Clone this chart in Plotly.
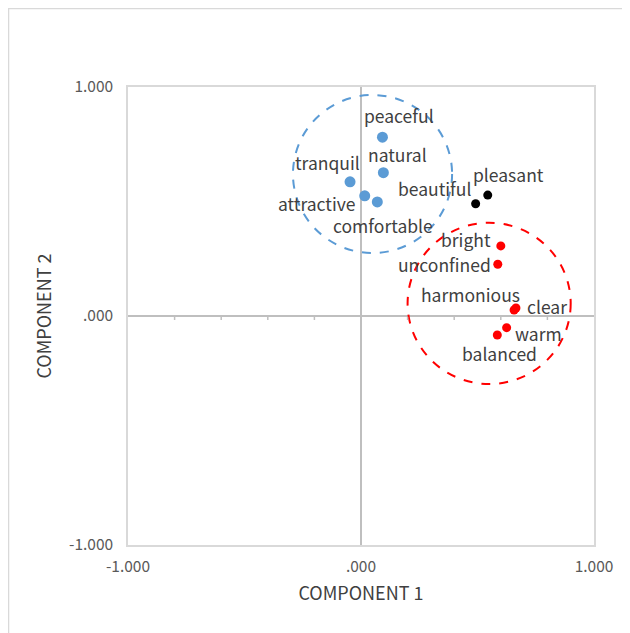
import plotly.graph_objects as go

# ---- data ----
blue_words = ["peaceful", "natural", "tranquil", "attractive", "comfortable"]
blue_x = [0.092, 0.096, -0.047, 0.016, 0.070]
blue_y = [0.781, 0.626, 0.586, 0.525, 0.498]

black_words = ["pleasant", "beautiful"]
black_x = [0.544, 0.492]
black_y = [0.528, 0.490]

red_words = ["bright", "unconfined", "harmonious", "clear", "warm", "balanced"]
red_x = [0.600, 0.587, 0.657, 0.665, 0.625, 0.585]
red_y = [0.306, 0.226, 0.026, 0.035, -0.051, -0.083]

tick_vals = [-1, 0, 1]
tick_text = ["-1.000", ".000", "1.000"]
minor_ticks = [-0.8, -0.6, -0.4, -0.2, 0.2, 0.4, 0.6, 0.8]

# cluster circles (data units)
blue_circle = dict(x0=-0.292, x1=0.391, y0=0.275, y1=0.965)
red_circle = dict(x0=0.200, x1=0.900, y0=-0.297, y1=0.407)

# label offsets in pixels (dx right, dy up)
label_offsets = {
    "peaceful": (17, 22), "natural": (14, 18), "tranquil": (-23, 19),
    "attractive": (-48, -8), "comfortable": (6, -24),
    "pleasant": (21, 21), "beautiful": (-41, 15),
    "bright": (-35, 6), "unconfined": (-53, 0), "harmonious": (-44, 16),
    "clear": (31, 1), "warm": (32, -6), "balanced": (2, -18),
}

FONT = "Noto Sans CJK SC"
TXT = "#404040"

fig = go.Figure()
for xs, ys, col, size in [(blue_x, blue_y, "#5b9bd5", 11),
                          (black_x, black_y, "#000000", 9),
                          (red_x, red_y, "#ff0000", 9)]:
    fig.add_trace(go.Scatter(x=xs, y=ys, mode="markers",
                             marker=dict(color=col, size=size),
                             showlegend=False, hoverinfo="skip"))

annotations = []
for words, xs, ys in [(blue_words, blue_x, blue_y),
                      (black_words, black_x, black_y),
                      (red_words, red_x, red_y)]:
    for w, x, y in zip(words, xs, ys):
        dx, dy = label_offsets[w]
        annotations.append(dict(x=x, y=y, text=w, showarrow=False,
                                xshift=dx, yshift=dy,
                                font=dict(family=FONT, size=17.5, color=TXT)))

shapes = []
shapes.append(dict(type="circle", xref="x", yref="y", **blue_circle,
                   line=dict(color="#5b9bd5", width=2, dash="dash")))
shapes.append(dict(type="circle", xref="x", yref="y", **red_circle,
                   line=dict(color="#ff0000", width=2, dash="dash")))
for t in minor_ticks:
    shapes.append(dict(type="line", xref="x", yref="y", ysizemode="pixel",
                       yanchor=0, x0=t, x1=t, y0=-1, y1=-4,
                       line=dict(color="#bfbfbf", width=1.5)))
# outer chart border
shapes.append(dict(type="rect", xref="paper", yref="paper",
                   x0=-0.2564, x1=1.2, y0=-0.3, y1=1.1715,
                   line=dict(color="#d9d9d9", width=1.5), layer="below"))

axis_common = dict(range=[-1, 1], tickvals=tick_vals, ticktext=tick_text,
                   showgrid=False, zeroline=True, zerolinecolor="#bfbfbf",
                   zerolinewidth=2, showline=True, mirror=True,
                   linecolor="#d9d9d9", linewidth=1.5,
                   ticks="outside", tickcolor="rgba(0,0,0,0)",
                   tickfont=dict(family=FONT, size=15.5, color="#595959"),
                   fixedrange=True)

fig.update_layout(
    width=630, height=633,
    margin=dict(l=120, r=44, t=79, b=96),
    paper_bgcolor="white", plot_bgcolor="white",
    xaxis=dict(**axis_common, ticklen=7,
               title=dict(text="COMPONENT 1", standoff=12,
                          font=dict(family=FONT, size=18, color=TXT))),
    yaxis=dict(**axis_common, ticklen=10,
               title=dict(text="COMPONENT 2", standoff=13,
                          font=dict(family=FONT, size=18, color=TXT))),
    annotations=annotations,
    shapes=shapes,
)

fig.write_html("out.html")
